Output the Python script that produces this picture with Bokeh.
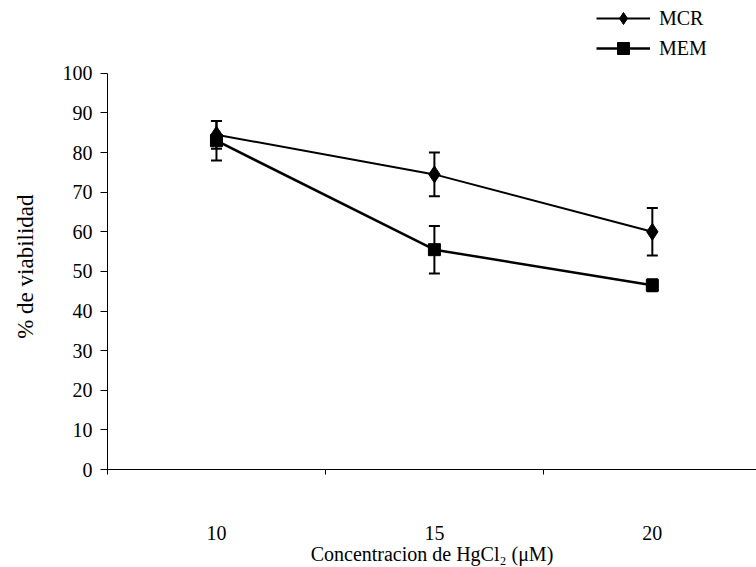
from bokeh.plotting import figure
from bokeh.models import Range1d, FixedTicker, Whisker, ColumnDataSource, Legend, LegendItem, TeeHead
from bokeh.embed import file_html
from bokeh.resources import INLINE

# ---- data ----
conc = [10, 15, 20]
conc_labels = ["10", "15", "20"]
cat_edges = [7.5, 12.5, 17.5, 22.5]
mcr = [84.5, 74.5, 60.0]
mcr_err = [3.5, 5.5, 6.0]
mem = [83.0, 55.5, 46.5]
mem_err = [5.0, 6.0, 1.5]
y_ticks = [0, 10, 20, 30, 40, 50, 60, 70, 80, 90, 100]

FONT = "Liberation Serif"

src_mcr = ColumnDataSource(dict(
    x=conc, y=mcr,
    lo=[v - e for v, e in zip(mcr, mcr_err)],
    hi=[v + e for v, e in zip(mcr, mcr_err)]))
src_mem = ColumnDataSource(dict(
    x=conc, y=mem,
    lo=[v - e for v, e in zip(mem, mem_err)],
    hi=[v + e for v, e in zip(mem, mem_err)]))

# frame spans the whole top of the canvas so the legend (above the 0-100 axis) is inside it
p = figure(width=756, height=567, output_backend="svg", toolbar_location=None,
           x_range=Range1d(7.5, 22.39), y_range=Range1d(0, 118.4),
           min_border_left=107, min_border_right=0, min_border_top=0, min_border_bottom=98)
p.outline_line_color = None
p.xgrid.visible = False
p.ygrid.visible = False
p.background_fill_color = "white"
p.border_fill_color = "white"

# error bars
for s in (src_mcr, src_mem):
    w = Whisker(base="x", lower="lo", upper="hi", source=s, line_color="black", line_width=2,
                upper_head=TeeHead(size=11, line_width=2, line_color="black"),
                lower_head=TeeHead(size=11, line_width=2, line_color="black"))
    p.add_layout(w)

l1 = p.line("x", "y", source=src_mcr, line_color="black", line_width=2)
m1 = p.scatter("x", "y", source=src_mcr, marker="diamond", size=17,
               fill_color="black", line_color="black")
l2 = p.line("x", "y", source=src_mem, line_color="black", line_width=2.5)
m2 = p.scatter("x", "y", source=src_mem, marker="square", size=12,
               fill_color="black", line_color="black")

# axes
xa = p.xaxis[0]
xa.ticker = FixedTicker(ticks=conc, minor_ticks=cat_edges)
xa.major_label_overrides = {c: l for c, l in zip(conc, conc_labels)}
xa.major_tick_line_color = None
xa.minor_tick_out = 5
xa.minor_tick_in = 0
xa.minor_tick_line_color = "black"
xa.axis_line_color = "black"
xa.major_label_standoff = 50
xa.axis_label = "Concentracion de HgCl\u2082 (\u03bcM)"
xa.axis_label_standoff = 0

ya = p.yaxis[0]
ya.bounds = (0, 100)
ya.ticker = FixedTicker(ticks=y_ticks)
ya.major_tick_out = 7
ya.major_tick_in = 0
ya.minor_tick_line_color = None
ya.axis_line_color = "black"
ya.major_tick_line_color = "black"
ya.major_label_standoff = 8
# trailing no-break spaces shift the visible title down to the centre of the 0-100 axis
ya.axis_label = "% de viabilidad" + "\u00a0" * 11
ya.axis_label_standoff = 22

for ax in (xa, ya):
    ax.major_label_text_font = FONT
    ax.major_label_text_font_size = "20px"
    ax.major_label_text_color = "black"
    ax.axis_label_text_font = FONT
    ax.axis_label_text_font_style = "normal"
    ax.axis_label_text_color = "black"
xa.axis_label_text_font_size = "20px"
ya.axis_label_text_font_size = "23px"

legend = Legend(items=[LegendItem(label="MCR", renderers=[l1, m1]),
                       LegendItem(label="MEM", renderers=[l2, m2])],
                location=(489, 406), orientation="vertical",
                glyph_width=54, glyph_height=30, label_height=30, spacing=0,
                padding=0, margin=0, label_standoff=9,
                label_text_font=FONT, label_text_font_size="20px", label_text_color="black",
                background_fill_alpha=0, border_line_color=None)
p.add_layout(legend)

open("out.html", "w").write(file_html(p, INLINE))
